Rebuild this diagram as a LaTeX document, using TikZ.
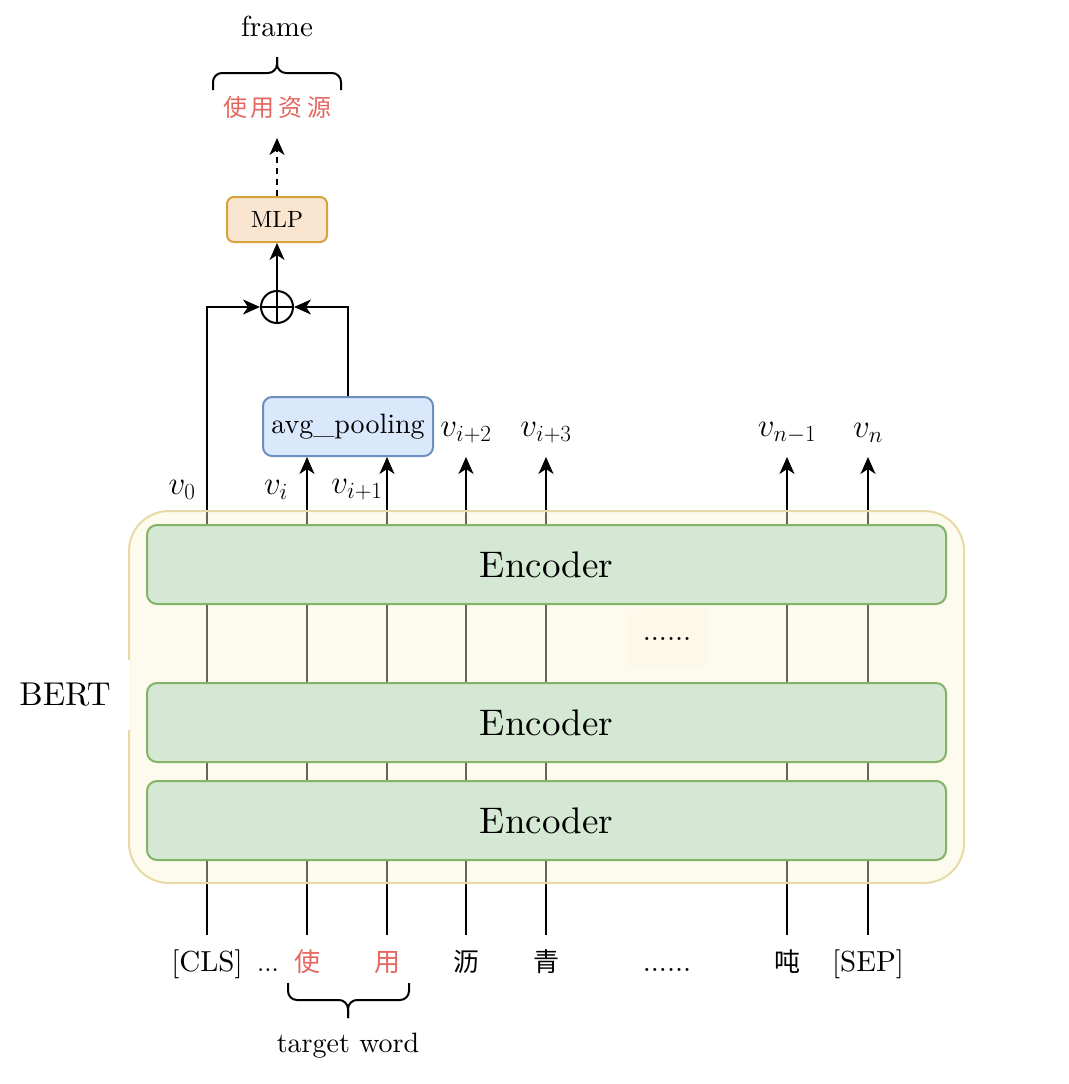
\RequirePackage{fix-cm}
\documentclass[tikz,border=0pt]{standalone}
\usepackage{fontspec}
\setmainfont{lmroman10-regular}[Extension=.otf, ItalicFont=lmroman10-italic, BoldFont=lmroman10-bold]
\newfontfamily\cjk{Noto Sans CJK SC}
\usetikzlibrary{arrows.meta}
\definecolor{encfill}{HTML}{D5E8D4}
\definecolor{encdraw}{HTML}{82B366}
\definecolor{bertfill}{HTML}{FBF3D6}
\definecolor{bertdraw}{HTML}{E8DAA6}
\definecolor{avgfill}{HTML}{DAE8FC}
\definecolor{avgdraw}{HTML}{6C8EBF}
\definecolor{mlpfill}{HTML}{FAE6D0}
\definecolor{mlpdraw}{HTML}{D6A23A}
\definecolor{redtxt}{HTML}{E4675F}
\tikzset{
  fs/.style={font=\fontsize{#1}{#1}\selectfont},
  conn/.style={line width=2pt, draw=black},
  arr/.style={conn, -{Stealth[length=17pt,width=15pt,inset=5pt]}},
  tok/.style={inner sep=0pt, minimum height=58pt, text height=21pt, text depth=6pt, anchor=center, fs=29},
  ctok/.style={tok, font=\fontsize{26}{26}\selectfont\cjk},
  vlab/.style={inner sep=0pt, fs=33},
  encbox/.style={draw=encdraw, fill=encfill, line width=2pt, rounded corners=10pt,
    minimum width=799pt, minimum height=79pt, fs=37},
  bertbox/.style={draw=bertdraw, fill=bertfill, fill opacity=0.42, line width=2pt,
    rounded corners=40pt, minimum width=835pt, minimum height=372pt},
  brc/.style={line width=2pt, rounded corners=9pt},
}
\begin{document}
\begin{tikzpicture}[x=1pt,y=-1pt]
\useasboundingbox (0,0) rectangle (1068,1084);

% tokens
\node[tok] (cls) at (207,964) {[CLS]};
\node[tok, fs=26] (ell) at (268,964) {...};
\node[ctok, text=redtxt] (shi) at (307,964) {使};
\node[ctok, text=redtxt] (yong) at (387,964) {用};
\node[ctok] (li) at (466,964) {沥};
\node[ctok] (qing) at (546,964) {青};
\node[tok] (tdots) at (667,964) {......};
\node[ctok] (dun) at (787,964) {吨};
\node[tok] (sep) at (868,964) {[SEP]};

% upper blocks
\node[draw=avgdraw, fill=avgfill, line width=2pt, rounded corners=9pt,
  minimum width=170pt, minimum height=59pt, inner sep=0pt, fs=28] (avg) at (348,426.5) {avg\_pooling};
\node[circle, draw, line width=2pt, minimum size=32pt, inner sep=0pt] (sum) at (277,307) {};
\node[draw=mlpdraw, fill=mlpfill, line width=2pt, rounded corners=7pt,
  minimum width=100pt, minimum height=45pt, inner sep=0pt, fs=23.5] (mlp) at (277,219.5) {MLP};
\node[inner sep=0pt, font=\fontsize{24}{24}\selectfont\cjk, text=redtxt] (res) at (277,107)
  {使\hspace{4pt}用\hspace{4pt}资\hspace{4pt}源};
\node[inner sep=0pt, fs=29] (frame) at (277,26) {frame};
\node[inner sep=0pt, fs=28] (tw) at (348,1046) {target word};

% vector labels
\node[vlab] (v0) at (182,490) {$v_0$};
\node[vlab] (vi) at (276,490) {$v_i$};
\node[vlab] (vi1) at (357,490) {$v_{i+1}$};
\node[vlab] (vi2) at (466,433) {$v_{i+2}$};
\node[vlab] (vi3) at (546,433) {$v_{i+3}$};
\node[vlab] (vn1) at (787,433) {$v_{n-1}$};
\node[vlab] (vn) at (868,433) {$v_n$};

\coordinate (eli) at (466,457);
\coordinate (eqing) at (546,457);
\coordinate (edun) at (787,457);
\coordinate (esep) at (868,457);
\coordinate (out) at (277,138);

% connectors
\draw[arr] (cls.north) |- (sum.west);
\draw[arr] (shi.north) -- (shi.north |- avg.south);
\draw[arr] (yong.north) -- (yong.north |- avg.south);
\draw[arr] (li.north) -- (eli);
\draw[arr] (qing.north) -- (eqing);
\draw[arr] (dun.north) -- (edun);
\draw[arr] (sep.north) -- (esep);
\draw[arr] (avg.north) |- (sum.east);
\draw[conn] (sum.north) -- (sum.south);
\draw[conn] (sum.west) -- (sum.east);
\draw[arr] (sum.north) -- (mlp.south);
\draw[arr, dash pattern=on 6pt off 5pt] (mlp.north) -- (out);

% BERT container
\node[bertbox] (bert) at (546.5,697) {};
\node[encbox] (enc3) at (546.5,564.5) {Encoder};
\node[encbox] (enc2) at (546.5,722.5) {Encoder};
\node[encbox] (enc1) at (546.5,820.5) {Encoder};
\node[fill=bertfill, fill opacity=0.25, text opacity=1, minimum width=82pt, minimum height=57pt, inner sep=0pt, fs=29] (mdots) at (667,638.5) {......};
\node[fill=white, minimum width=130pt, minimum height=70pt, inner sep=0pt, fs=33] (bertlab) at (65,695) {BERT};

% braces
\coordinate (b1l) at (213,90);
\coordinate (b1r) at (341,90);
\coordinate (b1m) at (277,73);
\coordinate (b1t) at (277,57);
\coordinate (b2l) at (288,983);
\coordinate (b2r) at (409,983);
\coordinate (b2m) at (348,1000);
\coordinate (b2t) at (348,1018);
\draw[brc] (b1l) |- (b1m) -- (b1t);
\draw[brc] (b1r) |- (b1m) -- (b1t);
\draw[brc] (b2l) |- (b2m) -- (b2t);
\draw[brc] (b2r) |- (b2m) -- (b2t);
\end{tikzpicture}
\end{document}
